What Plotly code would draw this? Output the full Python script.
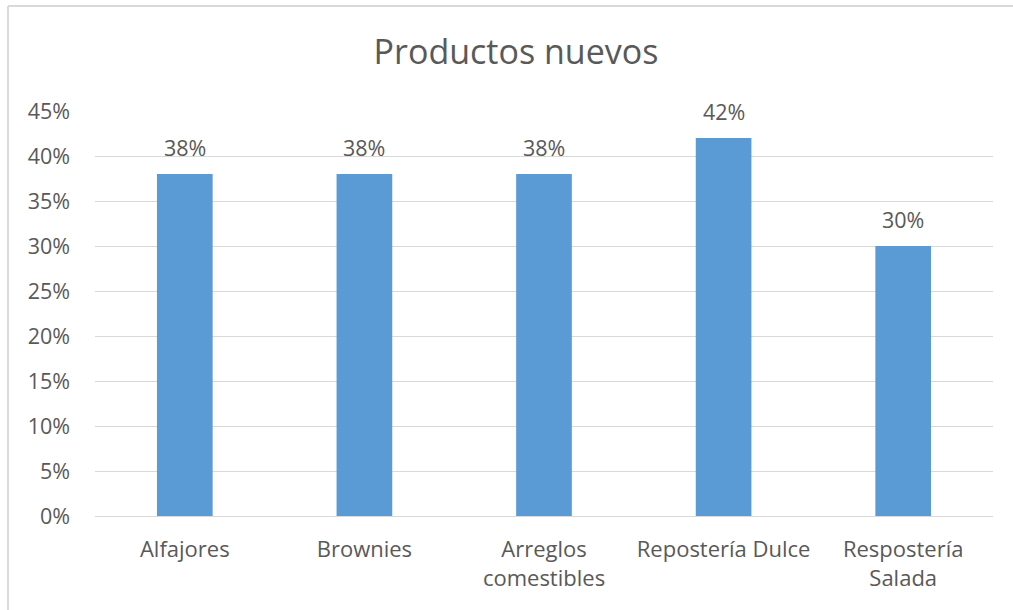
import plotly.graph_objects as go

categories = ["Alfajores", "Brownies", "Arreglos<br>comestibles", "Repostería Dulce", "Respostería<br>Salada"]
values = [0.38, 0.38, 0.38, 0.42, 0.30]
labels = ["38%", "38%", "38%", "42%", "30%"]
tick_vals = [0, 0.05, 0.10, 0.15, 0.20, 0.25, 0.30, 0.35, 0.40, 0.45]

FONT = "Open Sans"
GREY = "#595959"

W, H = 1013, 610
L, R, T, B = 95, 20, 111, 94

fig = go.Figure(go.Bar(
    x=categories, y=values,
    marker=dict(color="#5B9BD5", line=dict(width=0)),
    width=0.31, hoverinfo="x+y",
))

annotations = [
    dict(x=c, y=v, text=t, showarrow=False, xref="x", yref="y",
         yanchor="middle", yshift=27, font=dict(size=21.5, color=GREY, family=FONT))
    for c, v, t in zip(categories, values, labels)
]

pw = W - L - R
ph = H - T - B
def px(x):
    return (x - L) / pw
def py(y):
    return (H - B - y) / ph

fig.update_layout(
    width=W, height=H,
    margin=dict(l=L, r=R, t=T, b=B),
    plot_bgcolor="white", paper_bgcolor="white",
    title=dict(text="Productos nuevos", x=516 / W, xanchor="center", y=1 - 52 / H, yanchor="middle",
               font=dict(size=34, color=GREY, family=FONT)),
    font=dict(family=FONT, color=GREY),
    showlegend=False,
    annotations=annotations,
    xaxis=dict(tickfont=dict(size=22, color=GREY, family=FONT), showgrid=False,
               showline=True, linecolor="#D9D9D9", linewidth=1, ticks="", ticklabelstandoff=14),
    yaxis=dict(range=[0, 0.45], tickvals=tick_vals, tickformat=".0%",
               tickfont=dict(size=21.5, color=GREY, family=FONT),
               showgrid=True, gridcolor="#D9D9D9", gridwidth=1, zeroline=False,
               showline=False, ticks="", ticklabelstandoff=24),
    shapes=[
        dict(type="line", xref="paper", yref="paper", x0=px(8), x1=px(1013), y0=py(6), y1=py(6),
             line=dict(color="#D9D9D9", width=2)),
        dict(type="line", xref="paper", yref="paper", x0=px(8), x1=px(8), y0=py(6), y1=py(615),
             line=dict(color="#D9D9D9", width=2)),
    ],
)

fig.write_html("out.html", config={"displayModeBar": False},
               post_script="document.body.style.margin='0';")
